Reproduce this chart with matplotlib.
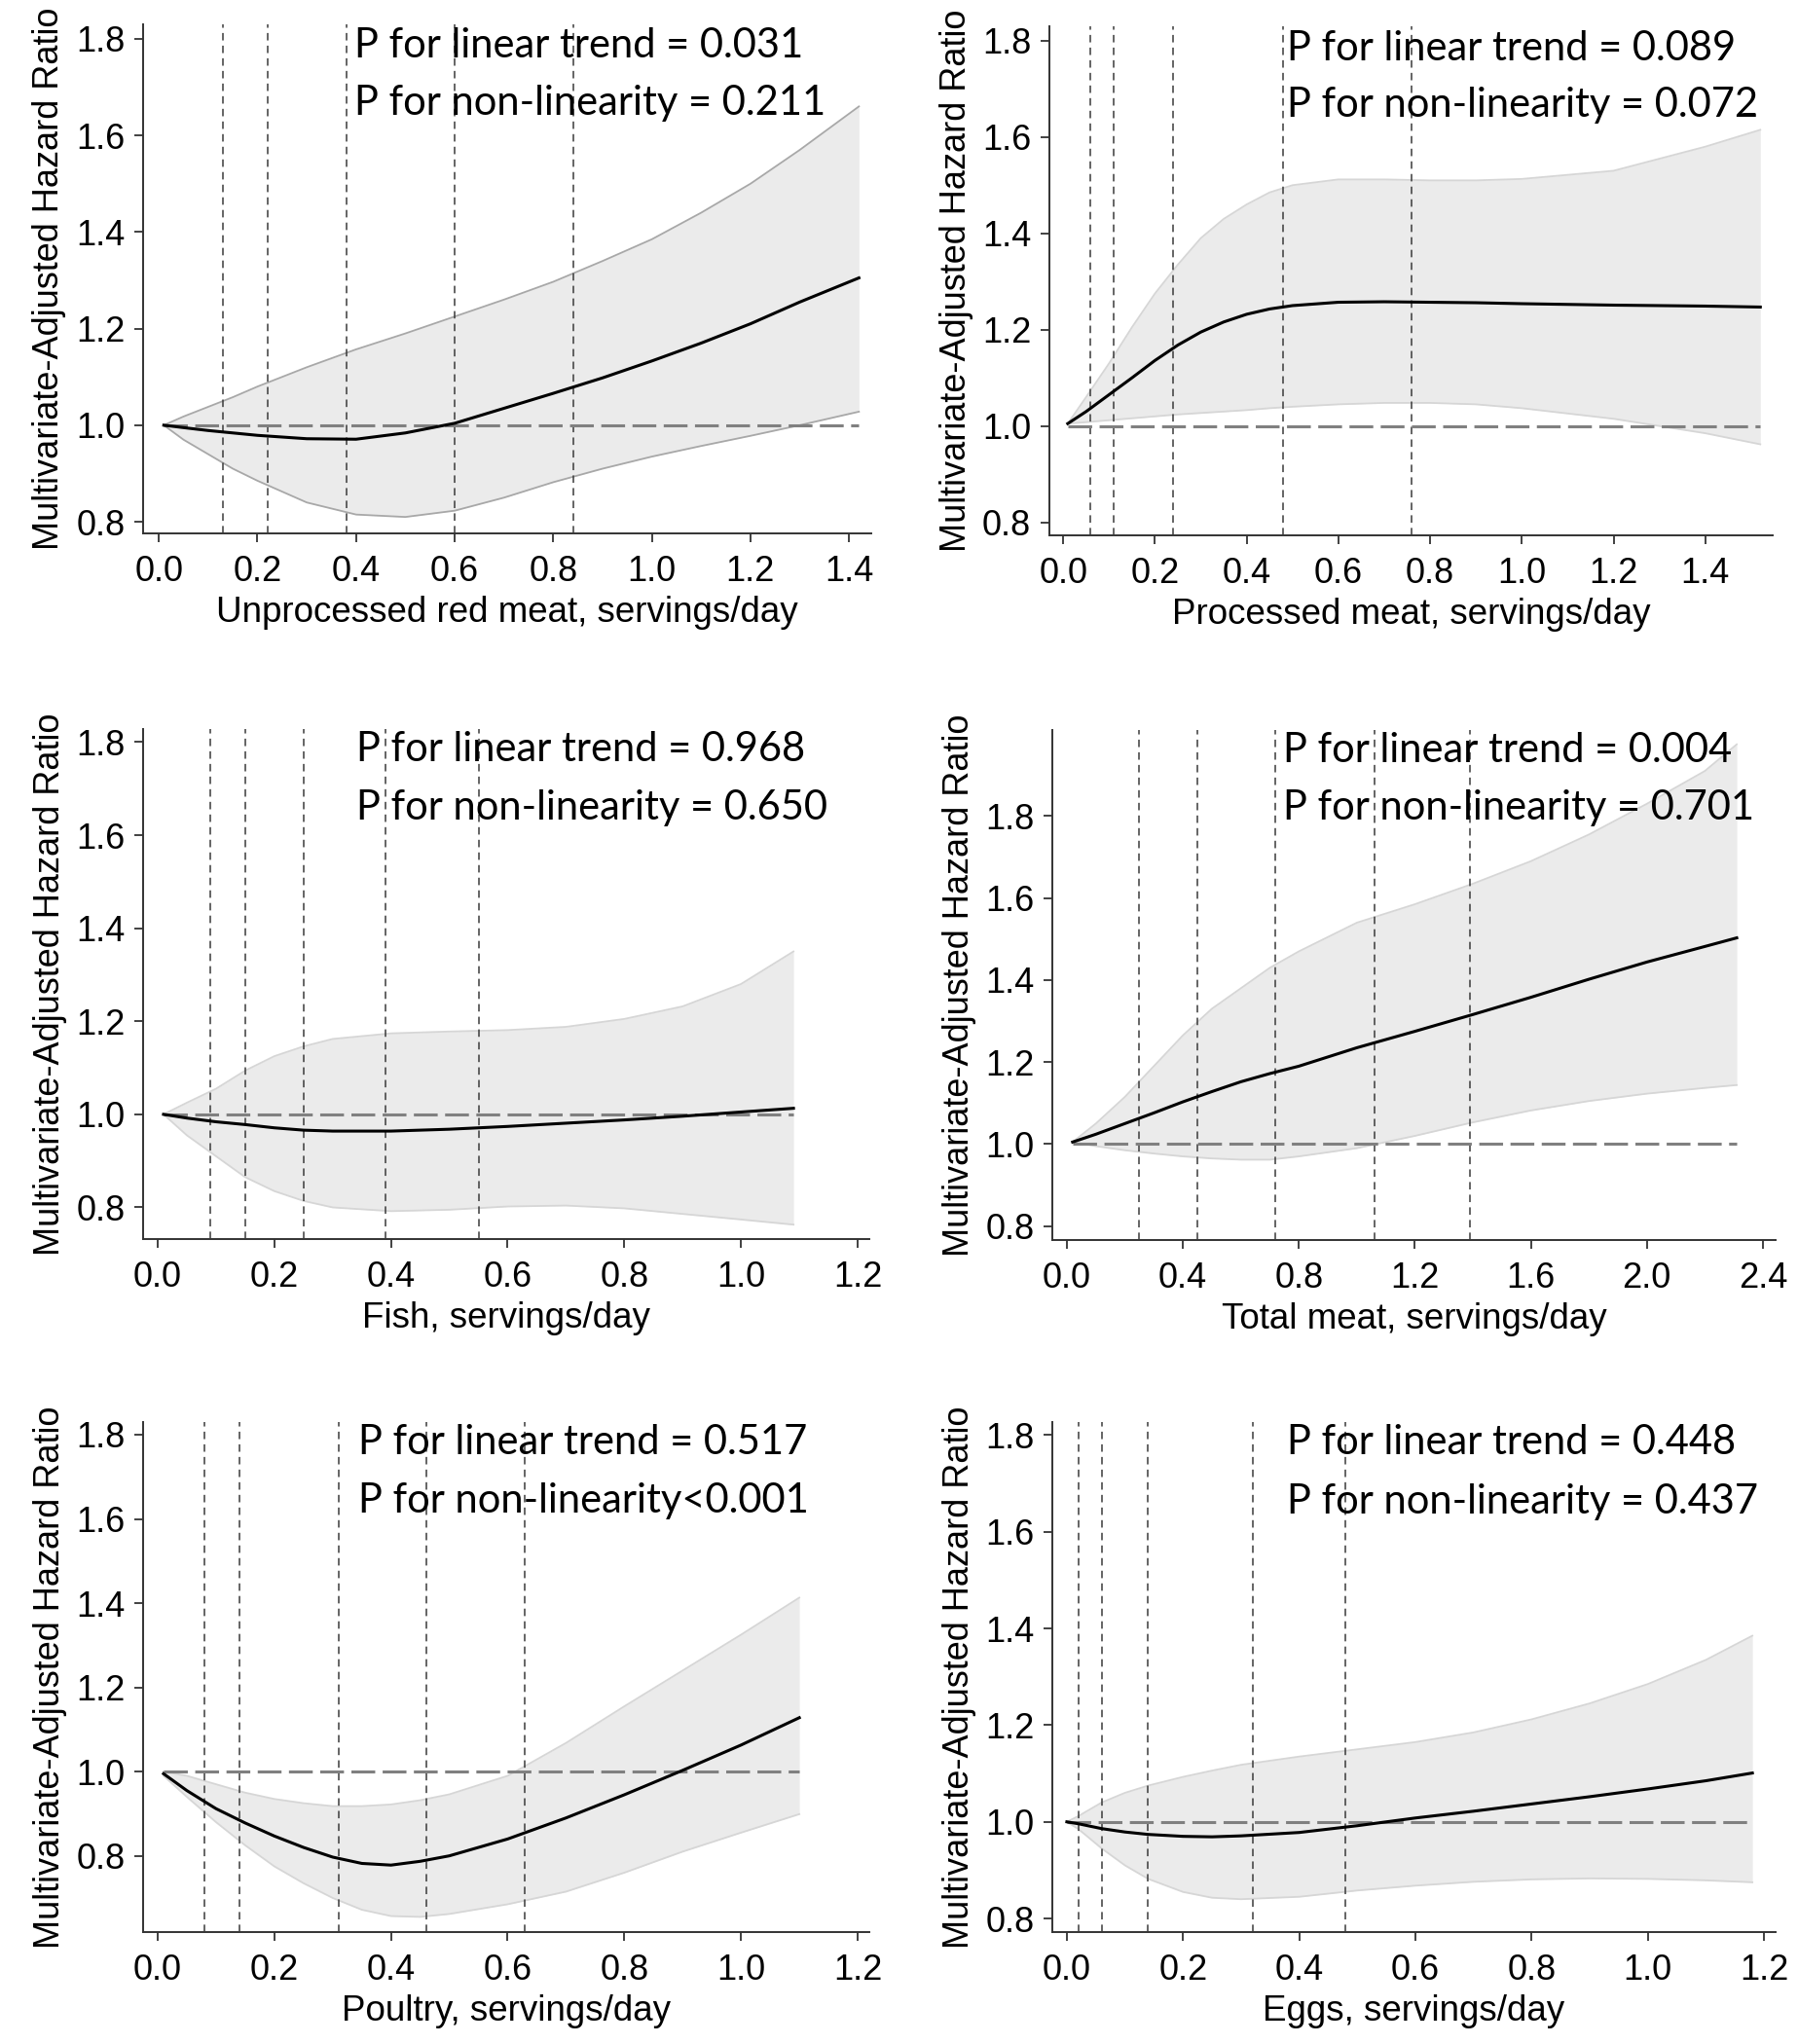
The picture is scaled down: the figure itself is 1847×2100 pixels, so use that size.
import numpy as np
import matplotlib
matplotlib.use("Agg")
import matplotlib.pyplot as plt

plt.rcParams['font.family'] = ['Liberation Sans', 'DejaVu Sans']

# ---- data ---------------------------------------------------------------
# Unprocessed red meat
red_x = [0.01, 0.05, 0.1, 0.15, 0.2, 0.3, 0.4, 0.5, 0.6, 0.7, 0.8, 0.9, 1.0, 1.1, 1.2, 1.3, 1.42]
red_hr = [1.0, 0.995, 0.989, 0.984, 0.979, 0.972, 0.971, 0.984, 1.004, 1.035, 1.066, 1.098, 1.133, 1.17, 1.21, 1.255, 1.305]
red_lo = [1.0, 0.97, 0.94, 0.91, 0.885, 0.84, 0.815, 0.81, 0.823, 0.85, 0.882, 0.91, 0.935, 0.957, 0.978, 1.0, 1.028]
red_hi = [1.0, 1.018, 1.038, 1.058, 1.08, 1.12, 1.157, 1.19, 1.225, 1.26, 1.297, 1.34, 1.385, 1.44, 1.5, 1.57, 1.66]
red_knots = [0.13, 0.22, 0.38, 0.60, 0.84]

# Processed meat
proc_x = [0.01, 0.05, 0.1, 0.15, 0.2, 0.25, 0.3, 0.35, 0.4, 0.45, 0.5, 0.6, 0.7, 0.8, 0.9, 1.0, 1.2, 1.4, 1.52]
proc_hr = [1.005, 1.03, 1.065, 1.1, 1.136, 1.168, 1.195, 1.216, 1.232, 1.243, 1.25, 1.257, 1.258, 1.257, 1.256, 1.254, 1.251, 1.249, 1.247]
proc_lo = [1.005, 1.008, 1.012, 1.016, 1.02, 1.024, 1.027, 1.03, 1.033, 1.037, 1.04, 1.045, 1.048, 1.048, 1.045, 1.037, 1.015, 0.985, 0.962]
proc_hi = [1.005, 1.06, 1.13, 1.205, 1.275, 1.335, 1.39, 1.43, 1.46, 1.485, 1.5, 1.512, 1.512, 1.51, 1.51, 1.513, 1.53, 1.58, 1.615]
proc_knots = [0.06, 0.11, 0.24, 0.48, 0.76]

# Fish
fish_x = [0.01, 0.05, 0.1, 0.15, 0.2, 0.25, 0.3, 0.4, 0.5, 0.6, 0.7, 0.8, 0.9, 1.0, 1.09]
fish_hr = [1.0, 0.992, 0.984, 0.978, 0.971, 0.966, 0.964, 0.964, 0.968, 0.974, 0.981, 0.988, 0.996, 1.005, 1.013]
fish_lo = [1.0, 0.955, 0.91, 0.865, 0.835, 0.814, 0.80, 0.792, 0.795, 0.802, 0.804, 0.798, 0.786, 0.774, 0.763]
fish_hi = [1.0, 1.025, 1.055, 1.094, 1.125, 1.146, 1.162, 1.174, 1.178, 1.181, 1.188, 1.205, 1.232, 1.28, 1.35]
fish_knots = [0.09, 0.15, 0.25, 0.39, 0.55]

# Total meat
tot_x = [0.02, 0.1, 0.2, 0.3, 0.4, 0.5, 0.6, 0.7, 0.8, 1.0, 1.2, 1.4, 1.6, 1.8, 2.0, 2.2, 2.31]
tot_hr = [1.005, 1.024, 1.05, 1.076, 1.103, 1.128, 1.152, 1.172, 1.19, 1.235, 1.275, 1.316, 1.358, 1.402, 1.444, 1.482, 1.503]
tot_lo = [1.005, 0.995, 0.985, 0.977, 0.97, 0.965, 0.962, 0.962, 0.97, 0.99, 1.02, 1.053, 1.082, 1.105, 1.123, 1.137, 1.144]
tot_hi = [1.005, 1.05, 1.115, 1.19, 1.265, 1.33, 1.38, 1.43, 1.47, 1.54, 1.585, 1.635, 1.69, 1.755, 1.83, 1.91, 1.975]
tot_knots = [0.25, 0.45, 0.72, 1.06, 1.39]

# Poultry
poul_x = [0.01, 0.05, 0.1, 0.15, 0.2, 0.25, 0.3, 0.35, 0.4, 0.45, 0.5, 0.6, 0.7, 0.8, 0.9, 1.0, 1.1]
poul_hr = [0.995, 0.955, 0.912, 0.878, 0.847, 0.82, 0.797, 0.782, 0.778, 0.787, 0.80, 0.84, 0.89, 0.945, 1.003, 1.063, 1.128]
poul_lo = [0.99, 0.94, 0.88, 0.825, 0.775, 0.735, 0.70, 0.672, 0.657, 0.655, 0.662, 0.685, 0.715, 0.76, 0.81, 0.855, 0.899]
poul_hi = [1.0, 0.99, 0.97, 0.95, 0.935, 0.925, 0.918, 0.918, 0.922, 0.932, 0.946, 0.99, 1.068, 1.155, 1.24, 1.325, 1.413]
poul_knots = [0.08, 0.14, 0.31, 0.46, 0.63]

# Eggs
egg_x = [0.0, 0.02, 0.06, 0.1, 0.14, 0.2, 0.25, 0.3, 0.4, 0.5, 0.6, 0.7, 0.8, 0.9, 1.0, 1.1, 1.18]
egg_hr = [1.0, 0.996, 0.986, 0.979, 0.974, 0.97, 0.969, 0.971, 0.978, 0.992, 1.008, 1.022, 1.037, 1.052, 1.068, 1.085, 1.101]
egg_lo = [1.0, 0.985, 0.945, 0.91, 0.882, 0.855, 0.843, 0.84, 0.845, 0.858, 0.868, 0.876, 0.881, 0.883, 0.882, 0.879, 0.875]
egg_hi = [1.0, 1.012, 1.04, 1.06, 1.075, 1.093, 1.106, 1.118, 1.135, 1.15, 1.165, 1.185, 1.212, 1.245, 1.285, 1.335, 1.385]
egg_knots = [0.02, 0.06, 0.14, 0.32, 0.48]

x_labels = ['Unprocessed red meat, servings/day', 'Processed meat, servings/day',
            'Fish, servings/day', 'Total meat, servings/day',
            'Poultry, servings/day', 'Eggs, servings/day']
p_trend = ['P for linear trend = 0.031', 'P for linear trend = 0.089',
           'P for linear trend = 0.968', 'P for linear trend = 0.004',
           'P for linear trend = 0.517', 'P for linear trend = 0.448']
p_nonlin = ['P for non-linearity = 0.211', 'P for non-linearity = 0.072',
            'P for non-linearity = 0.650', 'P for non-linearity = 0.701',
            'P for non-linearity<0.001', 'P for non-linearity = 0.437']
y_ticks = [0.8, 1.0, 1.2, 1.4, 1.6, 1.8]

panels = [
    (red_x, red_hr, red_lo, red_hi, red_knots),
    (proc_x, proc_hr, proc_lo, proc_hi, proc_knots),
    (fish_x, fish_hr, fish_lo, fish_hi, fish_knots),
    (tot_x, tot_hr, tot_lo, tot_hi, tot_knots),
    (poul_x, poul_hr, poul_lo, poul_hi, poul_knots),
    (egg_x, egg_hr, egg_lo, egg_hi, egg_knots),
]

# ---- layout (pixel boxes of each axes: left, right, top, bottom) ---------
W, H = 1847, 2100
boxes = [(147, 895, 25, 548), (1078, 1821, 27, 550),
         (147, 893, 749, 1273), (1081, 1824, 750, 1274),
         (147, 893, 1461, 1985), (1081, 1824, 1461, 1985)]
xlims = [(-0.032, 1.445), (-0.03, 1.547), (-0.025, 1.22),
         (-0.05, 2.444), (-0.025, 1.22), (-0.025, 1.22)]
ylims = [(0.776, 1.83), (0.773, 1.83), (0.732, 1.828),
         (0.766, 2.01), (0.619, 1.83), (0.772, 1.827)]
xticks = [np.arange(0, 1.41, 0.2), np.arange(0, 1.41, 0.2), np.arange(0, 1.21, 0.2),
          np.arange(0, 2.41, 0.4), np.arange(0, 1.21, 0.2), np.arange(0, 1.21, 0.2)]
text_x = [0.29, 0.329, 0.294, 0.319, 0.296, 0.324]
text_y = [(0.935, 0.822), (0.934, 0.822), (0.937, 0.822),
          (0.937, 0.824), (0.937, 0.822), (0.937, 0.821)]
edge_colors = ['#a8a8a8', '#d6d6d6', '#d6d6d6', '#d6d6d6', '#d6d6d6', '#d6d6d6']

fig = plt.figure(figsize=(W / 100, H / 100), dpi=100)

for i, (x, hr, lo, hi, knots) in enumerate(panels):
    l, r, t, b = boxes[i]
    ax = fig.add_axes([l / W, 1 - b / H, (r - l) / W, (b - t) / H])

    ax.fill_between(x, lo, hi, color='#ebebeb', lw=0, zorder=1)
    ax.plot(x, lo, color=edge_colors[i], lw=1.3, zorder=2)
    ax.plot(x, hi, color=edge_colors[i], lw=1.3, zorder=2)
    for k in knots:
        ax.axvline(k, color='#3a3a3a', lw=1.1, dashes=(5, 3.5), zorder=3)
    ax.plot([x[0], x[-1]], [1.0, 1.0], color='#808080', lw=2.2,
            dashes=(8, 2.5), zorder=4)
    ax.plot(x, hr, color='black', lw=2.2, zorder=5)

    ax.set_xlim(*xlims[i])
    ax.set_ylim(*ylims[i])
    ax.set_xticks(xticks[i])
    ax.set_xticklabels([f'{v:.1f}' for v in xticks[i]])
    ax.set_yticks(y_ticks)
    ax.set_yticklabels([f'{v:.1f}' for v in y_ticks])

    for side in ['top', 'right']:
        ax.spines[side].set_visible(False)
    for side in ['left', 'bottom']:
        ax.spines[side].set_color('#333333')
        ax.spines[side].set_linewidth(1.4)
    ax.tick_params(axis='both', labelsize=26, length=6.5, width=1.3,
                   color='#333333', labelcolor='black')
    ax.tick_params(axis='x', pad=9.5)
    ax.tick_params(axis='y', pad=7)

    ax.set_xlabel(x_labels[i], fontsize=26.5)
    ax.xaxis.set_label_coords(0.5, -0.122)
    ax.set_ylabel('Multivariate-Adjusted Hazard Ratio', fontsize=26)
    ax.yaxis.set_label_coords(-0.105, 0.5)

    ax.text(text_x[i], text_y[i][0], p_trend[i], transform=ax.transAxes,
            fontsize=30, family=['Lato', 'DejaVu Sans'], va='baseline', zorder=6)
    ax.text(text_x[i], text_y[i][1], p_nonlin[i], transform=ax.transAxes,
            fontsize=30, family=['Lato', 'DejaVu Sans'], va='baseline', zorder=6)

fig.savefig('out.png', dpi=100, facecolor='white')
